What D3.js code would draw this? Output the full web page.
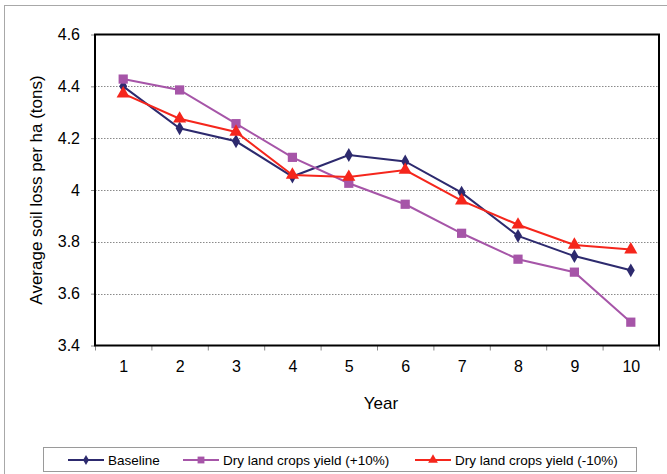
<!DOCTYPE html>
<html>
<head>
<meta charset="utf-8">
<script src="https://cdn.jsdelivr.net/npm/d3@7"></script>
<style>
  html, body { margin: 0; padding: 0; background: #fff; }
  svg { display: block; font-family: "Liberation Sans", Arial, sans-serif; }
</style>
</head>
<body>
<svg id="chart" width="667" height="474"></svg>
<script>
// Average soil loss per hectare over ten simulated years
const years = [1, 2, 3, 4, 5, 6, 7, 8, 9, 10];
const baseline = [4.40, 4.238, 4.188, 4.052, 4.135, 4.110, 3.990, 3.823, 3.745, 3.690];
const yieldPlus10 = [4.428, 4.386, 4.256, 4.126, 4.026, 3.945, 3.833, 3.733, 3.683, 3.490];
const yieldMinus10 = [4.372, 4.275, 4.224, 4.058, 4.050, 4.077, 3.959, 3.866, 3.788, 3.770];
const yTicks = [3.4, 3.6, 3.8, 4.0, 4.2, 4.4, 4.6];
const yTickLabels = ["3.4", "3.6", "3.8", "4", "4.2", "4.4", "4.6"];
const seriesNames = ["Baseline", "Dry land crops yield (+10%)", "Dry land crops yield (-10%)"];

const series = [
  { name: seriesNames[0], values: baseline, color: "#2d2a6e", symbol: d3.symbolDiamond, size: 55 },
  { name: seriesNames[1], values: yieldPlus10, color: "#a655a8", symbol: d3.symbolSquare, size: 85 },
  { name: seriesNames[2], values: yieldMinus10, color: "#f5261c", symbol: d3.symbolTriangle, size: 75 }
];

const svg = d3.select("#chart");
const plot = { left: 95, right: 659, top: 34.5, bottom: 345.5 };

// outer chart frame
svg.append("rect")
  .attr("x", 4.5).attr("y", 5.5)
  .attr("width", 720).attr("height", 520)
  .attr("fill", "#fff").attr("stroke", "#a8a8a8").attr("stroke-width", 1);

const x = d3.scaleLinear().domain([0.5, 10.5]).range([plot.left, plot.right]);
const y = d3.scaleLinear().domain([3.4, 4.6]).range([plot.bottom, plot.top]);

// dotted horizontal gridlines
svg.append("g")
  .selectAll("line")
  .data(yTicks.slice(1, -1))
  .join("line")
  .attr("x1", plot.left).attr("x2", plot.right)
  .attr("y1", d => Math.round(y(d)) + 0.5).attr("y2", d => Math.round(y(d)) + 0.5)
  .attr("stroke", "#8a8a8a").attr("stroke-width", 1)
  .attr("stroke-dasharray", "1.5,1.5");

// y axis ticks and labels
const yAxis = d3.axisLeft(y)
  .tickValues(yTicks)
  .tickFormat((d, i) => yTickLabels[i])
  .tickSize(4)
  .tickPadding(11);
const gy = svg.append("g").attr("transform", `translate(${plot.left},0)`).call(yAxis);
gy.select(".domain").remove();
gy.selectAll(".tick line").attr("stroke", "#888");
gy.selectAll("text").attr("font-size", 16).attr("fill", "#000")
  .attr("font-family", "'Liberation Sans', Arial, sans-serif");

// x axis: tick marks between categories, labels centred on each year
const xEdges = d3.range(0.5, 11, 1);
const xTickAxis = d3.axisBottom(x).tickValues(xEdges).tickFormat("").tickSize(5);
const gxt = svg.append("g").attr("transform", `translate(0,${plot.bottom})`).call(xTickAxis);
gxt.select(".domain").remove();
gxt.selectAll(".tick line").attr("stroke", "#888");

const xLabelAxis = d3.axisBottom(x).tickValues(years).tickFormat(d => String(d)).tickSize(0).tickPadding(15);
const gxl = svg.append("g").attr("transform", `translate(0,${plot.bottom})`).call(xLabelAxis);
gxl.select(".domain").remove();
gxl.selectAll("text").attr("font-size", 16).attr("fill", "#000")
  .attr("font-family", "'Liberation Sans', Arial, sans-serif");

// plot area border
svg.append("rect")
  .attr("x", plot.left).attr("y", plot.top)
  .attr("width", plot.right - plot.left).attr("height", plot.bottom - plot.top)
  .attr("fill", "none").attr("stroke", "#000").attr("stroke-width", 2);

// series lines and markers
const line = d3.line().x((d, i) => x(years[i])).y(d => y(d));
series.forEach(s => {
  const g = svg.append("g");
  g.append("path")
    .attr("d", line(s.values))
    .attr("fill", "none").attr("stroke", s.color).attr("stroke-width", 2);
  g.selectAll("path.mk")
    .data(s.values)
    .join("path")
    .attr("class", "mk")
    .attr("d", d3.symbol().type(s.symbol).size(s.size))
    .attr("transform", (d, i) => `translate(${x(years[i])},${y(d)})`)
    .attr("fill", s.color);
});

// axis titles
svg.append("text")
  .attr("x", 381).attr("y", 409)
  .attr("text-anchor", "middle").attr("font-size", 17)
  .text("Year");
svg.append("text")
  .attr("transform", "translate(42,190) rotate(-90)")
  .attr("text-anchor", "middle").attr("font-size", 17)
  .text("Average soil loss per ha (tons)");

// legend
const legend = svg.append("g");
legend.append("rect")
  .attr("x", 43.5).attr("y", 447.5)
  .attr("width", 593).attr("height", 24)
  .attr("fill", "#fff").attr("stroke", "#9a9a9a").attr("stroke-width", 1);
const legendX = [68, 183, 415];
series.forEach((s, i) => {
  const lg = legend.append("g").attr("transform", `translate(${legendX[i]},460)`);
  lg.append("line").attr("x1", 0).attr("x2", 36).attr("y1", 0).attr("y2", 0)
    .attr("stroke", s.color).attr("stroke-width", 2);
  lg.append("path")
    .attr("d", d3.symbol().type(s.symbol).size(s.size * 0.55))
    .attr("transform", "translate(18,0)")
    .attr("fill", s.color);
  lg.append("text")
    .attr("x", 40).attr("y", 0).attr("dy", "0.35em")
    .attr("font-size", 13.5)
    .text(s.name);
});
</script>
</body>
</html>
